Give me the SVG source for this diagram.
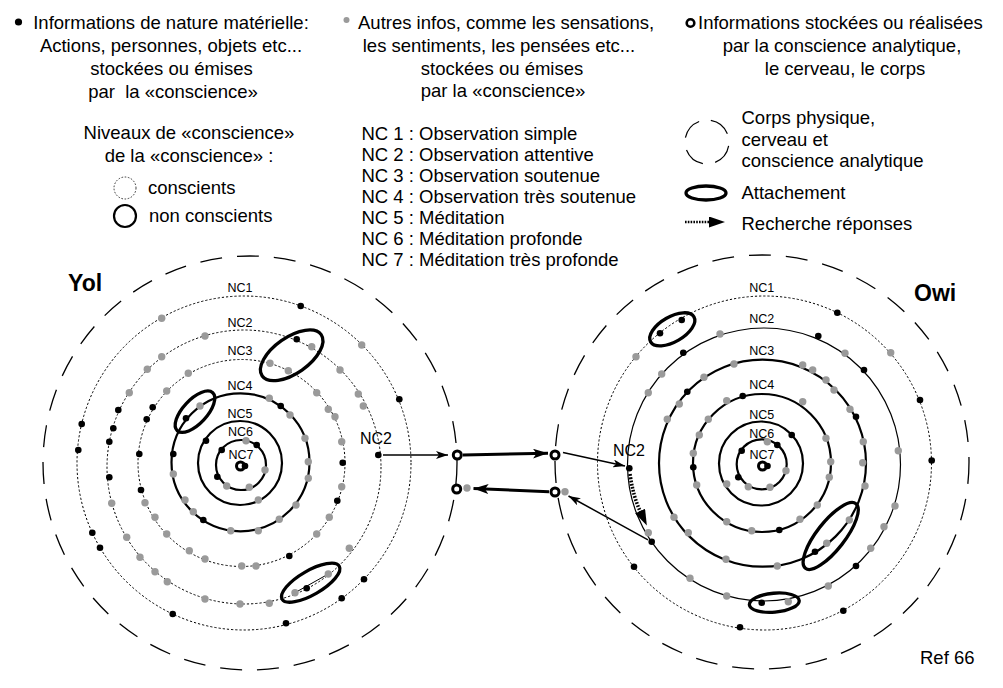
<svg xmlns="http://www.w3.org/2000/svg" xmlns:xlink="http://www.w3.org/1999/xlink" width="1003" height="688" viewBox="0 0 1003 688">
<style>
text{font-family:"Liberation Sans",Arial,sans-serif;fill:#000}
.t{font-size:18.5px}
.m{text-anchor:middle}
.nc{font-size:12.5px;text-anchor:middle}
.big{font-size:16px}
.ttl{font-size:23px;font-weight:bold}
.dot{fill:none;stroke:#000;stroke-width:1;stroke-dasharray:2.2 2}
.sol{fill:none;stroke:#000;stroke-width:2.2}
.thin{fill:none;stroke:#000;stroke-width:1.2}
.body{fill:none;stroke:#000;stroke-width:1.3;stroke-dasharray:22 15}
.att{fill:none;stroke:#000;stroke-width:3.3}
.node{fill:#fff;stroke:#000;stroke-width:3}
.c1{fill:none;stroke:#000;stroke-width:1.5}
.c3{fill:none;stroke:#000;stroke-width:3}
</style>
<defs>
<circle id="k" r="3.3" fill="#000"/>
<circle id="g" r="3.7" fill="#9a9a9a"/>
<marker id="ah" markerWidth="12" markerHeight="8" refX="12" refY="4" orient="auto" markerUnits="userSpaceOnUse"><path d="M0,0 L12,4 L0,8 L3,4 Z" fill="#000"/></marker>
<marker id="ahb" markerWidth="15" markerHeight="10" refX="15" refY="5" orient="auto" markerUnits="userSpaceOnUse"><path d="M0,0 L15,5 L0,10 L3.5,5 Z" fill="#000"/></marker>
<marker id="ahd" markerWidth="16" markerHeight="11" refX="1" refY="5.5" orient="auto" markerUnits="userSpaceOnUse"><path d="M0,0 L16,5.5 L0,11 Z" fill="#000"/></marker>
</defs>

<g id="legend-material">
<circle cx="18.5" cy="22" r="3.6" fill="#000"/>
<text class="t m" x="171" y="29">Informations de nature matérielle:</text>
<text class="t m" x="171" y="52">Actions, personnes, objets etc...</text>
<text class="t m" x="171.5" y="75">stockées ou émises</text>
<text class="t m" x="173" y="98">par&#160; la «conscience»</text>
</g>
<g id="legend-levels">
<text class="t m" x="189" y="139">Niveaux de «conscience»</text>
<text class="t m" x="189" y="162">de la «conscience» :</text>
<circle cx="125" cy="188" r="11" fill="none" stroke="#333" stroke-width="1" stroke-dasharray="1.6 1.6"/>
<text class="t" x="148" y="194">conscients</text>
<circle cx="125" cy="216" r="11" fill="none" stroke="#000" stroke-width="2.2"/>
<text class="t" x="149" y="222">non conscients</text>
</g>
<g id="legend-other">
<circle cx="346.5" cy="20" r="3" fill="#9a9a9a"/>
<text class="t" x="358" y="29">Autres infos, comme les sensations,</text>
<text class="t m" x="499" y="52">les sentiments, les pensées etc...</text>
<text class="t m" x="502" y="75">stockées ou émises</text>
<text class="t m" x="503" y="97">par la «conscience»</text>
</g>
<g id="legend-nc">
<text class="t" x="361.5" y="140">NC 1 : Observation simple</text>
<text class="t" x="361.5" y="161">NC 2 : Observation attentive</text>
<text class="t" x="361.5" y="182">NC 3 : Observation soutenue</text>
<text class="t" x="361.5" y="203">NC 4 : Observation très soutenue</text>
<text class="t" x="361.5" y="224">NC 5 : Méditation</text>
<text class="t" x="361.5" y="245">NC 6 : Méditation profonde</text>
<text class="t" x="361.5" y="266">NC 7 : Méditation très profonde</text>
</g>
<g id="legend-analytic">
<circle cx="690.5" cy="23" r="3.8" fill="#fff" stroke="#000" stroke-width="2.6"/>
<text class="t" x="698" y="29">Informations stockées ou réalisées</text>
<text class="t m" x="842" y="52">par la conscience analytique,</text>
<text class="t m" x="845" y="75">le cerveau, le corps</text>
</g>
<g id="legend-body">
<circle cx="707" cy="142" r="22" fill="none" stroke="#000" stroke-width="1.2" stroke-dasharray="22 12.5" transform="rotate(-80 707 142)"/>
<text class="t" x="741.5" y="124">Corps physique,</text>
<text class="t" x="741.5" y="146">cerveau et</text>
<text class="t" x="741.5" y="167">conscience analytique</text>
</g>
<g id="legend-attach">
<ellipse cx="706" cy="193" rx="20" ry="7" class="att"/>
<text class="t" x="741.5" y="199">Attachement</text>
</g>
<g id="legend-search">
<path d="M685,222 L710,222" fill="none" stroke="#000" stroke-width="2.6" stroke-dasharray="1.6 1.2" marker-end="url(#ahd)"/>
<text class="t" x="741.5" y="230">Recherche réponses</text>
</g>

<g id="yol">
<text class="ttl" x="68" y="291">Yol</text>
<circle class="body" cx="250" cy="463" r="207"/>
<circle class="dot" cx="244" cy="463" r="167"/>
<circle class="dot" cx="244" cy="467" r="137"/>
<circle class="dot" cx="241.5" cy="463" r="103.5"/>
<circle class="sol" cx="240.5" cy="462.3" r="69"/>
<circle class="sol" cx="240" cy="463" r="42"/>
<circle class="sol" cx="241" cy="465" r="25"/>
<text class="nc" x="240" y="291.5">NC1</text>
<text class="nc" x="240" y="327">NC2</text>
<text class="nc" x="240" y="355">NC3</text>
<text class="nc" x="240" y="390">NC4</text>
<text class="nc" x="240" y="417.5">NC5</text>
<text class="nc" x="240.5" y="436">NC6</text>
<text class="nc" x="241" y="458.5">NC7</text>
<text class="big" x="360" y="444">NC2</text>
<line x1="295" y1="592.7" x2="328.3" y2="574" stroke="#000" stroke-width="1"/>
<!-- NC1 -->
<use href="#k" x="300.7" y="306"/><use href="#g" x="161.7" y="318.3"/><use href="#g" x="361.7" y="345"/><use href="#k" x="399.3" y="399.3"/>
<use href="#k" x="81.7" y="424"/><use href="#k" x="78.3" y="450"/><use href="#k" x="92.3" y="532.7"/><use href="#k" x="100" y="547.7"/>
<use href="#k" x="172.7" y="614"/><use href="#k" x="286" y="623.3"/><use href="#k" x="341.7" y="598.3"/><use href="#k" x="364" y="579.3"/>
<!-- NC2 -->
<use href="#g" x="205" y="336"/><use href="#k" x="296.7" y="339.3"/><use href="#g" x="311.7" y="346.7"/><use href="#g" x="161.7" y="356.7"/>
<use href="#g" x="340" y="370"/><use href="#g" x="147.3" y="369.3"/><use href="#g" x="358.3" y="394"/><use href="#g" x="363.3" y="406"/>
<use href="#g" x="129.3" y="392.7"/><use href="#k" x="118.3" y="410"/><use href="#k" x="113.3" y="428.3"/><use href="#k" x="109.3" y="441.7"/>
<use href="#k" x="378.3" y="455"/><use href="#k" x="109.3" y="477.3"/><use href="#g" x="111.7" y="503.3"/><use href="#g" x="126.7" y="537.3"/>
<use href="#g" x="140" y="557.3"/><use href="#g" x="155" y="571.7"/><use href="#g" x="167.3" y="581.7"/><use href="#g" x="205" y="599"/>
<use href="#g" x="240" y="604"/><use href="#g" x="269.3" y="603.3"/><use href="#g" x="295" y="592.7"/><use href="#k" x="306.7" y="588.3"/>
<use href="#g" x="328.3" y="574"/><use href="#g" x="349.3" y="548.3"/>
<!-- NC3 -->
<use href="#g" x="270" y="363.3"/><use href="#g" x="288.3" y="370.7"/><use href="#g" x="188.3" y="373.3"/><use href="#g" x="166.7" y="391"/>
<use href="#g" x="316.7" y="392.7"/><use href="#g" x="328.3" y="409.3"/><use href="#g" x="335" y="416.7"/><use href="#g" x="341.7" y="441.7"/>
<use href="#k" x="342.7" y="462.7"/><use href="#k" x="152.7" y="407.3"/><use href="#k" x="146.7" y="419.3"/><use href="#k" x="139.3" y="454"/>
<use href="#k" x="141" y="490"/><use href="#g" x="341.7" y="486.7"/><use href="#k" x="337.3" y="500.7"/><use href="#g" x="329.3" y="517.3"/>
<use href="#g" x="316.7" y="534"/><use href="#k" x="289.3" y="556"/><use href="#g" x="256" y="566"/><use href="#g" x="241.7" y="566"/>
<use href="#g" x="205" y="559"/><use href="#g" x="189.3" y="550.7"/><use href="#g" x="166.7" y="534"/><use href="#g" x="155" y="517.3"/>
<use href="#g" x="145" y="502.7"/>
<!-- NC4 -->
<use href="#g" x="269.3" y="398.3"/><use href="#k" x="280.7" y="406"/><use href="#g" x="290" y="415"/><use href="#g" x="305" y="438.3"/>
<use href="#g" x="308.3" y="461.7"/><use href="#g" x="308.3" y="478.3"/><use href="#g" x="296" y="505"/><use href="#g" x="279.3" y="519.3"/>
<use href="#g" x="258.3" y="530.7"/><use href="#g" x="230.7" y="530.7"/><use href="#k" x="203.3" y="520"/><use href="#g" x="193.3" y="511.7"/>
<use href="#g" x="185" y="500"/><use href="#g" x="173.3" y="474"/><use href="#k" x="173.3" y="454"/><use href="#g" x="200" y="406"/>
<use href="#k" x="186" y="418.3"/>
<!-- NC5 -->
<use href="#k" x="206" y="440.7"/><use href="#g" x="258.3" y="500"/>
<!-- NC6 -->
<use href="#g" x="246" y="440.7"/><use href="#k" x="256.7" y="445"/><use href="#k" x="221.7" y="450"/><use href="#g" x="265" y="470"/>
<use href="#k" x="217.3" y="476.7"/><use href="#g" x="226.7" y="486"/><use href="#g" x="249.3" y="487.3"/>
<!-- NC7 -->
<circle cx="240.5" cy="466" r="4" class="node"/><use href="#k" x="245" y="466"/>
<!-- attachments -->
<ellipse class="att" cx="291.7" cy="355.3" rx="36" ry="18" transform="rotate(-35 291.7 355.3)"/>
<ellipse class="att" cx="195" cy="411.7" rx="26" ry="12" transform="rotate(-47 195 411.7)"/>
<ellipse class="att" cx="310.7" cy="582.7" rx="33" ry="12" transform="rotate(-30 310.7 582.7)"/>
</g>

<g id="owi">
<text class="ttl" x="914" y="301">Owi</text>
<circle class="body" cx="762" cy="462" r="207"/>
<circle class="dot" cx="764.5" cy="463" r="167"/>
<circle class="thin" cx="764" cy="464.5" r="136.5"/>
<circle class="sol" cx="762.5" cy="463.2" r="103.5"/>
<circle class="sol" cx="762" cy="463" r="69"/>
<circle class="sol" cx="761" cy="463.5" r="42"/>
<circle class="sol" cx="761.7" cy="464.3" r="25"/>
<text class="nc" x="761.7" y="291.5">NC1</text>
<text class="nc" x="761.7" y="322.5">NC2</text>
<text class="nc" x="761.7" y="354.5">NC3</text>
<text class="nc" x="761.7" y="388.5">NC4</text>
<text class="nc" x="761.7" y="418.5">NC5</text>
<text class="nc" x="761.7" y="437.5">NC6</text>
<text class="nc" x="762" y="459">NC7</text>
<text class="big" x="613" y="456">NC2</text>
<!-- NC1 -->
<use href="#k" x="837.3" y="312.7"/><use href="#k" x="681.7" y="320"/><use href="#k" x="660" y="333.3"/><use href="#g" x="890.7" y="352.7"/>
<use href="#g" x="636" y="356.7"/><use href="#k" x="920" y="400"/><use href="#k" x="931.7" y="460.5"/><use href="#k" x="634" y="566.7"/>
<use href="#k" x="740" y="627.3"/><use href="#k" x="843.3" y="610.7"/>
<!-- NC2 -->
<use href="#g" x="720" y="334"/><use href="#k" x="818.3" y="336"/><use href="#g" x="845" y="353.3"/><use href="#k" x="864" y="370"/>
<use href="#k" x="683.3" y="352.7"/><use href="#g" x="661.7" y="374"/><use href="#g" x="648.3" y="392.7"/><use href="#g" x="898.3" y="450.7"/>
<use href="#k" x="629.3" y="468.3"/><use href="#g" x="648.3" y="532.7"/><use href="#k" x="651.7" y="541.7"/><use href="#g" x="690" y="578.3"/>
<use href="#g" x="726.7" y="596"/><use href="#k" x="761.7" y="602.7"/><use href="#g" x="788.3" y="601.7"/><use href="#g" x="828.3" y="586"/>
<use href="#k" x="856" y="566"/><use href="#g" x="870.7" y="548.3"/><use href="#g" x="884" y="526.7"/><use href="#g" x="895" y="506"/>
<!-- NC3 -->
<use href="#g" x="734" y="364"/><use href="#g" x="704" y="377.3"/><use href="#k" x="687.3" y="391.7"/><use href="#g" x="679.3" y="404"/>
<use href="#g" x="667.3" y="419.3"/><use href="#g" x="802.7" y="365"/><use href="#g" x="812.7" y="370"/><use href="#g" x="826" y="380"/>
<use href="#g" x="834" y="390"/><use href="#g" x="850" y="409.3"/><use href="#k" x="856" y="416.7"/><use href="#g" x="863.3" y="441.7"/>
<use href="#g" x="862.7" y="462.7"/><use href="#g" x="865" y="486"/><use href="#g" x="849.3" y="520"/><use href="#g" x="826.7" y="543.3"/>
<use href="#k" x="815" y="551.7"/><use href="#g" x="777.3" y="566"/><use href="#g" x="726" y="559.3"/><use href="#g" x="688.3" y="532.7"/>
<use href="#g" x="674" y="517.3"/>
<!-- NC4 -->
<use href="#k" x="742.7" y="396"/><use href="#g" x="726.7" y="400.7"/><use href="#g" x="802.7" y="401.7"/><use href="#g" x="708.3" y="419.3"/>
<use href="#g" x="699.3" y="435"/><use href="#g" x="693.3" y="453.3"/><use href="#k" x="693.3" y="467.3"/><use href="#g" x="696.7" y="485"/>
<use href="#g" x="726.7" y="521.7"/><use href="#g" x="751.7" y="530.7"/><use href="#k" x="779.3" y="530"/><use href="#g" x="800" y="519.3"/>
<use href="#g" x="817.3" y="505"/><use href="#g" x="829.3" y="477.3"/><use href="#g" x="830.7" y="461.7"/><use href="#g" x="826" y="438.3"/>
<!-- NC5 -->
<use href="#k" x="791.7" y="435"/><use href="#g" x="726.7" y="484"/>
<!-- NC6 -->
<use href="#g" x="767.3" y="441.7"/><use href="#k" x="777.3" y="445"/><use href="#k" x="741.7" y="450.7"/><use href="#g" x="786" y="470.7"/>
<use href="#k" x="738.3" y="477.3"/><use href="#g" x="748.3" y="486.7"/><use href="#g" x="770" y="487.3"/>
<!-- NC7 -->
<circle cx="762.5" cy="466" r="4" class="node"/><use href="#k" x="767.5" y="466"/>
<!-- attachments -->
<ellipse class="att" cx="672.3" cy="329.3" rx="25" ry="12.5" transform="rotate(-30 672.3 329.3)"/>
<ellipse class="att" cx="774.3" cy="602.7" rx="25" ry="9.5" transform="rotate(-5 774.3 602.7)"/>
<ellipse class="att" cx="830.7" cy="536" rx="41" ry="14" transform="rotate(-52 830.7 536)"/>
</g>

<g id="node-yol-out"><circle cx="457.3" cy="455" r="4" class="node"/></g>
<g id="node-yol-in"><circle cx="456.7" cy="489" r="4" class="node"/><use href="#g" x="467" y="488"/></g>
<g id="node-owi-in"><circle cx="555" cy="455" r="4" class="node"/></g>
<g id="node-owi-out"><circle cx="555" cy="492" r="4" class="node"/><use href="#g" x="565" y="491.7"/></g>

<g id="connectors">
<path class="c1" d="M383,455 L448,455" marker-end="url(#ah)"/>
<path class="c3" d="M463,455 L548,453.3" marker-end="url(#ahb)"/>
<path class="c1" d="M563,452.5 L625,466" marker-end="url(#ah)"/>
<path d="M630,474 Q633,496 640.5,512" fill="none" stroke="#000" stroke-width="3.6" stroke-dasharray="1.8 1.4" marker-end="url(#ahd)"/>
<path class="c1" d="M648,539.8 L568.5,496" marker-end="url(#ah)"/>
<path class="c3" d="M549,491.7 L473.5,488.4" marker-end="url(#ahb)"/>
</g>

<text class="t" x="920" y="664">Ref 66</text>
</svg>
